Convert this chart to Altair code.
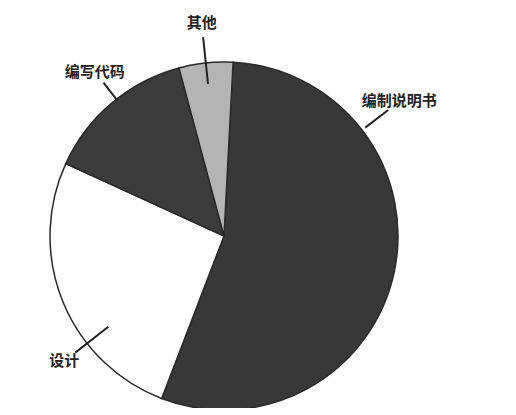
import math
import altair as alt
import pandas as pd

# ---- data ----
categories = ["编制说明书", "设计", "编写代码", "其他"]
values = [55, 26, 14, 5]

# ---- style ----
colors = ["#383838", "#ffffff", "#3c3c3c", "#b4b4b4"]
start_deg = 3.0
CX, CY, R = 216, 228, 174
W, H = 500, 400
# where along each slice the label leader sits (fraction of slice), and leader radii
label_frac = [0.25, 0.33, 0.54, 0.5]
lead_in = [178, 147, 172, 153]
lead_out = [207, 189, 195, 200]
text_gap = 14

total = sum(values)
rows = []
cum = 0.0
for i, (c, v) in enumerate(zip(categories, values)):
    a0 = start_deg + 360 * cum / total
    a1 = start_deg + 360 * (cum + v) / total
    cum += v
    a = math.radians(a0 + label_frac[i] * (a1 - a0))
    r_in, r_out, r_t = lead_in[i], lead_out[i], lead_out[i] + text_gap
    rows.append(dict(
        cat=c, value=v, idx=i,
        x1=CX + r_in * math.sin(a), y1=CY - r_in * math.cos(a),
        x2=CX + r_out * math.sin(a), y2=CY - r_out * math.cos(a),
        tx=CX + r_t * math.sin(a), ty=CY - r_t * math.cos(a),
    ))
df = pd.DataFrame(rows)

s0 = math.radians(start_deg)
pie = alt.Chart(df).mark_arc(
    outerRadius=R, stroke="#2a2a2a", strokeWidth=1.5
).encode(
    theta=alt.Theta("value:Q", stack=True, scale=alt.Scale(range=[s0, s0 + 2 * math.pi])),
    color=alt.Color("cat:N", scale=alt.Scale(domain=categories, range=colors), legend=None),
    order=alt.Order("idx:Q"),
    x=alt.value(CX),
    y=alt.value(CY),
)

xs = alt.Scale(domain=[0, W], range=[0, W])
ys = alt.Scale(domain=[0, H], reverse=True)

lines = alt.Chart(df).mark_rule(color="#222222", strokeWidth=2).encode(
    x=alt.X("x1:Q", scale=xs, axis=None),
    y=alt.Y("y1:Q", scale=ys, axis=None),
    x2="x2:Q",
    y2="y2:Q",
)

labels = alt.Chart(df).mark_text(
    font="Noto Sans CJK SC", fontSize=15, fontWeight="bold", color="#222222",
    align="center", baseline="middle",
).encode(
    x=alt.X("tx:Q", scale=xs, axis=None),
    y=alt.Y("ty:Q", scale=ys, axis=None),
    text="cat:N",
)

chart = alt.layer(pie, lines, labels).properties(
    width=W, height=H, padding=0, autosize=alt.AutoSizeParams(type="none")
).configure_view(stroke=None)

chart.save("out.html", embed_options={"renderer": "svg", "actions": False})
